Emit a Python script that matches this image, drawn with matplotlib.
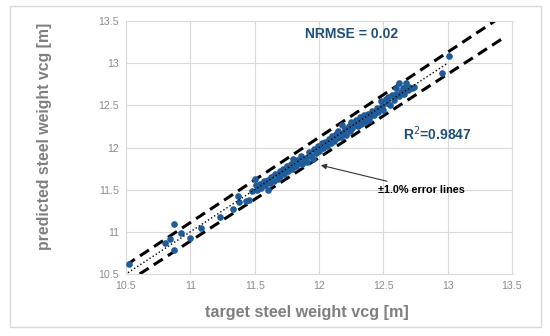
import matplotlib
matplotlib.use('Agg')
import matplotlib.pyplot as plt
from matplotlib.patches import Rectangle

plt.rcParams['font.family'] = ['Liberation Sans', 'DejaVu Sans']

# target vs predicted steel weight vcg [m]
target = [10.52, 10.80, 10.84, 10.87, 10.875, 10.925, 11.00, 11.08, 11.23, 11.33, 11.37, 11.38, 11.43, 11.455,
          11.48, 11.50, 11.51, 11.52, 11.54, 11.55, 11.57, 11.58, 11.60, 11.60, 11.62, 11.63, 11.65, 11.66,
          11.68, 11.70, 11.70, 11.72, 11.73, 11.75, 11.76, 11.78, 11.79, 11.80, 11.82, 11.83, 11.85, 11.86,
          11.87, 11.88, 11.90, 11.91, 11.92, 11.94, 11.95, 11.96, 11.98, 11.99, 12.00,
          12.02, 12.03, 12.05, 12.06, 12.08, 12.09, 12.10, 12.12, 12.13, 12.14, 12.15, 12.17, 12.18, 12.19,
          12.20, 12.21, 12.23, 12.24, 12.25, 12.26, 12.28, 12.29, 12.30, 12.31, 12.32, 12.33, 12.34, 12.35,
          12.36, 12.37, 12.38, 12.39, 12.40, 12.41, 12.43, 12.45, 12.46,
          12.48, 12.49, 12.50, 12.52, 12.53, 12.54, 12.55, 12.57, 12.58, 12.60, 12.60, 12.62, 12.62, 12.64,
          12.65, 12.66, 12.68, 12.69, 12.70, 12.72, 12.74, 12.955, 13.007]
predicted = [10.615, 10.87, 10.91, 11.095, 10.79, 10.99, 10.925, 11.05, 11.18, 11.27, 11.43, 11.355, 11.37, 11.38,
             11.48, 11.63, 11.55, 11.50, 11.57, 11.52, 11.60, 11.55, 11.62, 11.50, 11.58, 11.65, 11.60, 11.68,
             11.63, 11.72, 11.66, 11.75, 11.68, 11.78, 11.72, 11.80, 11.74, 11.86, 11.78, 11.85, 11.82, 11.90,
             11.80, 11.86, 11.88, 11.83, 11.95, 11.90, 11.86, 11.98, 11.93, 12.02, 11.96,
             12.05, 11.99, 12.07, 12.02, 12.10, 12.05, 12.14, 12.08, 12.16, 12.11, 12.20, 12.13, 12.27, 12.17,
             12.22, 12.15, 12.25, 12.20, 12.30, 12.23, 12.27, 12.33, 12.25, 12.30, 12.36, 12.28, 12.32, 12.38,
             12.30, 12.35, 12.40, 12.33, 12.37, 12.43, 12.39, 12.47, 12.42,
             12.55, 12.49, 12.45, 12.58, 12.53, 12.60, 12.50, 12.62, 12.56, 12.64, 12.70, 12.61, 12.77, 12.66,
             12.70, 12.63, 12.77, 12.68, 12.72, 12.70, 12.72, 12.88, 13.08]

# +-1% error lines and trendline ends
upper_x = [10.5, 13.366]
lower_x = [10.606, 13.43]
trend_x = [10.515, 13.0]
ticks = [10.5, 11, 11.5, 12, 12.5, 13, 13.5]

blue = '#1f5c99'
grey = '#7f7f7f'

fig = plt.figure(figsize=(5.5, 3.36), dpi=100)
ax = fig.add_axes([126 / 550, 1 - 274 / 336, 386 / 550, 253 / 336])

ax.plot(upper_x, [v * 1.01 for v in upper_x], color='black', lw=2.2, ls=(0, (3.5, 2)), zorder=2)
ax.plot(lower_x, [v * 0.99 for v in lower_x], color='black', lw=2.2, ls=(0, (3.5, 2)), zorder=2)
ax.scatter(target, predicted, s=23, color=blue, zorder=3, linewidths=0)
ax.plot(trend_x, trend_x, color='black', lw=1.0, ls=':', zorder=4)

ax.set_xlim(10.5, 13.5)
ax.set_ylim(10.5, 13.5)
ax.set_xticks(ticks)
ax.set_yticks(ticks)
ax.set_xticklabels(['10.5', '11', '11.5', '12', '12.5', '13', '13.5'])
ax.set_yticklabels(['10.5', '11', '11.5', '12', '12.5', '13', '13.5'])
ax.tick_params(length=0, labelsize=7.7, labelcolor='#8c8c8c', pad=5)
ax.grid(color='#d9d9d9', lw=0.8)
ax.set_axisbelow(True)
for sp in ax.spines.values():
    sp.set_color('#d9d9d9')
    sp.set_linewidth(0.8)

ax.text(11.89, 13.35, 'NRMSE = 0.02', color='#1f4e79', fontsize=10, fontweight='bold', va='center')
ax.text(12.65, 12.16, 'R$^2$=0.9847', color='#1f4e79', fontsize=10, fontweight='bold', va='center')
ax.annotate('±1.0% error lines', xy=(11.993, 11.798), xytext=(12.46, 11.50),
            fontsize=7.8, fontweight='bold', va='center',
            arrowprops=dict(arrowstyle='-|>', color='#333333', lw=0.8, mutation_scale=8))

fig.text(307 / 550, 1 - 313 / 336, 'target steel weight vcg [m]', ha='center', va='center',
         fontsize=11.6, fontweight='bold', color=grey)
fig.text(45 / 550, 1 - 136 / 336, 'predicted steel weight vcg [m]', ha='center', va='center',
         rotation=90, fontsize=11.4, fontweight='bold', color=grey)

fig.patches.append(Rectangle((10 / 550, 1 - 327 / 336), 531 / 550, 321 / 336, transform=fig.transFigure,
                             fill=False, edgecolor='#d9d9d9', lw=1))

fig.savefig('out.png', dpi=100)
